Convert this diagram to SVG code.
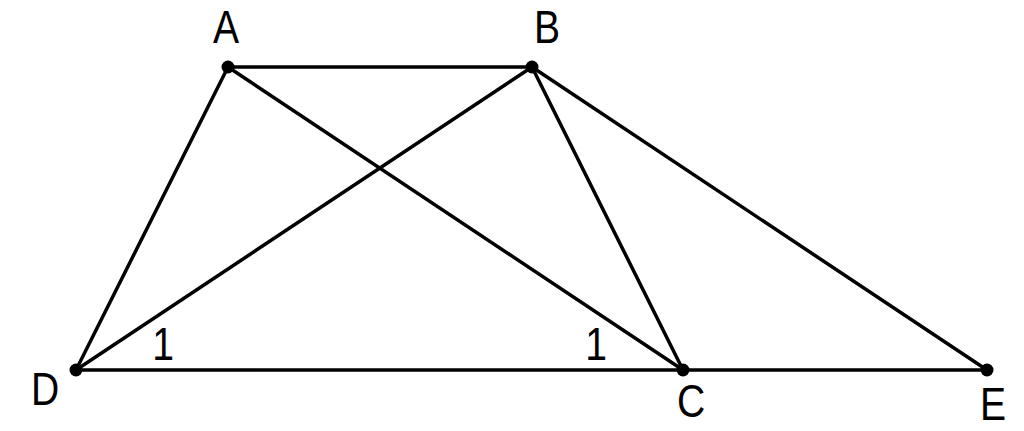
<svg xmlns="http://www.w3.org/2000/svg" width="1024" height="431" viewBox="0 0 1024 431">
<style>
.ln{stroke:#000;stroke-width:3.5;fill:none;stroke-linecap:round}
.pt{fill:#000}
.lb{font-family:"Liberation Sans",Arial,sans-serif;font-size:46px;fill:#000;text-anchor:middle}
.ang{font-family:"Liberation Sans",Arial,sans-serif;font-size:46px;fill:#000;text-anchor:middle}
</style>
<rect width="1024" height="431" fill="#fff"/>
<g id="connectors">
<line class="ln" x1="228" y1="67" x2="532" y2="67"/>
<line class="ln" x1="228" y1="67" x2="76" y2="370"/>
<line class="ln" x1="228" y1="67" x2="683" y2="370"/>
<line class="ln" x1="532" y1="67" x2="76" y2="370"/>
<line class="ln" x1="532" y1="67" x2="683" y2="370"/>
<line class="ln" x1="532" y1="67" x2="987" y2="370"/>
<line class="ln" x1="76" y1="370" x2="987" y2="370"/>
</g>
<g id="A"><circle class="pt" cx="228" cy="67" r="6.5"/><text class="lb" transform="translate(226,43) scale(0.85,1)">A</text></g>
<g id="B"><circle class="pt" cx="532" cy="67" r="6.5"/><text class="lb" transform="translate(547,43) scale(0.85,1)">B</text></g>
<g id="D"><circle class="pt" cx="76" cy="370" r="6.5"/><text class="lb" transform="translate(45,405) scale(0.85,1)">D</text></g>
<g id="C"><circle class="pt" cx="683" cy="370" r="6.5"/><text class="lb" transform="translate(691,417) scale(0.85,1)">C</text></g>
<g id="E"><circle class="pt" cx="987" cy="370" r="6.5"/><text class="lb" transform="translate(993,420) scale(0.85,1)">E</text></g>
<g id="angle1D"><text class="ang" transform="translate(163,360) scale(0.85,1)">1</text></g>
<g id="angle1C"><text class="ang" transform="translate(596,360) scale(0.85,1)">1</text></g>
</svg>
